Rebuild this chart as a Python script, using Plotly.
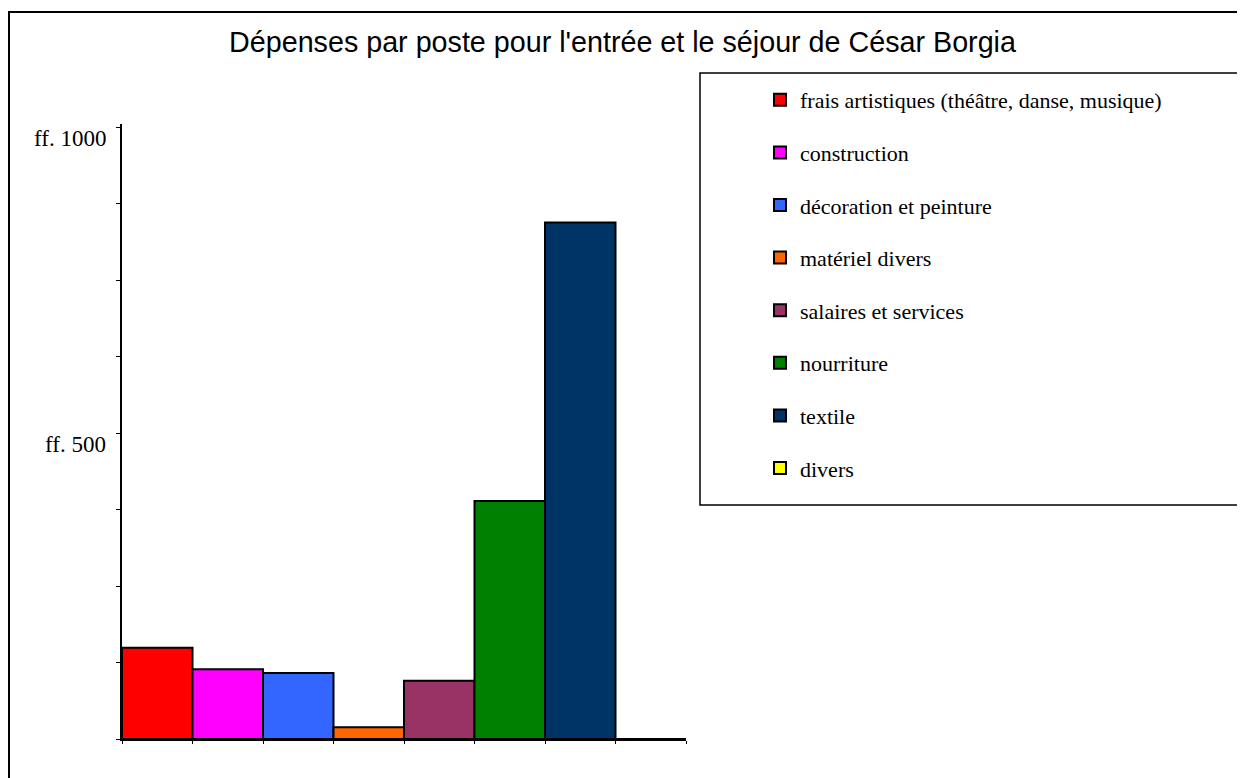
import plotly.graph_objects as go

categories = [
    "frais artistiques (théâtre, danse, musique)",
    "construction",
    "décoration et peinture",
    "matériel divers",
    "salaires et services",
    "nourriture",
    "textile",
    "divers",
]
values = [149, 114, 108, 19, 95, 389, 844, 0]
colors = ["#FF0000", "#FF00FF", "#3366FF", "#FF6600", "#993366", "#008000", "#003366", "#FFFF00"]
tick_values = [0, 125, 250, 375, 500, 625, 750, 875, 1000]
tick_labels = {500: "ff. 500", 1000: "ff. 1000"}

OFF = 8
W, H = 1245 - OFF, 778 - OFF


def px_x(x):
    return (x - OFF) / W


def px_y(y):
    return 1 - (y - OFF) / H


fig = go.Figure()
for i, (name, val, col) in enumerate(zip(categories, values, colors)):
    fig.add_trace(go.Bar(
        x=[i], y=[val], width=1, name=name, legendgroup=name,
        marker=dict(color=col, line=dict(color="black", width=2)),
    ))

annotations = []
for v, t in tick_labels.items():
    annotations.append(dict(
        x=px_x(108), xref="paper", xanchor="right",
        y=v, yref="y", yanchor="middle", yshift=-11,
        text=t, showarrow=False,
        font=dict(family="Liberation Serif", size=23, color="black"),
    ))

shapes = [
    dict(type="rect", xref="paper", yref="paper",
         x0=px_x(8) + 0.0008, x1=1.05, y0=-0.05, y1=px_y(12),
         line=dict(color="black", width=2), fillcolor="rgba(0,0,0,0)", layer="below"),
    dict(type="rect", xref="paper", yref="paper",
         x0=px_x(700), x1=px_x(1242), y0=px_y(505), y1=px_y(73),
         line=dict(color="black", width=1.5), fillcolor="rgba(0,0,0,0)", layer="below"),
]

fig.update_layout(
    width=W, height=H,
    margin=dict(l=0, r=0, t=0, b=0),
    paper_bgcolor="white", plot_bgcolor="white",
    barmode="overlay",
    title=dict(text="Dépenses par poste pour l'entrée et le séjour de César Borgia",
               x=px_x(622.5), xanchor="center", y=px_y(42), yanchor="middle",
               font=dict(family="Liberation Sans", size=28.7, color="black")),
    xaxis=dict(domain=[px_x(122), px_x(686)], range=[-0.5, 7.5],
               showgrid=False, zeroline=False, showline=True, linecolor="black", linewidth=2,
               tickvals=[i - 0.5 for i in range(9)], ticks="outside", ticklen=3,
               tickcolor="black", showticklabels=False),
    yaxis=dict(domain=[px_y(739), px_y(124)], range=[0, 1005],
               showgrid=False, zeroline=False, showline=True, linecolor="black", linewidth=2,
               tickvals=tick_values, ticks="outside", ticklen=4, tickcolor="black",
               showticklabels=False),
    showlegend=True,
    legend=dict(x=px_x(760), y=px_y(79), xanchor="left", yanchor="top",
                traceorder="grouped", tracegroupgap=21, bgcolor="rgba(0,0,0,0)",
                borderwidth=0,
                font=dict(family="Liberation Serif", size=22, color="black")),
    annotations=annotations,
    shapes=shapes,
)

fig.write_html("out.html")
